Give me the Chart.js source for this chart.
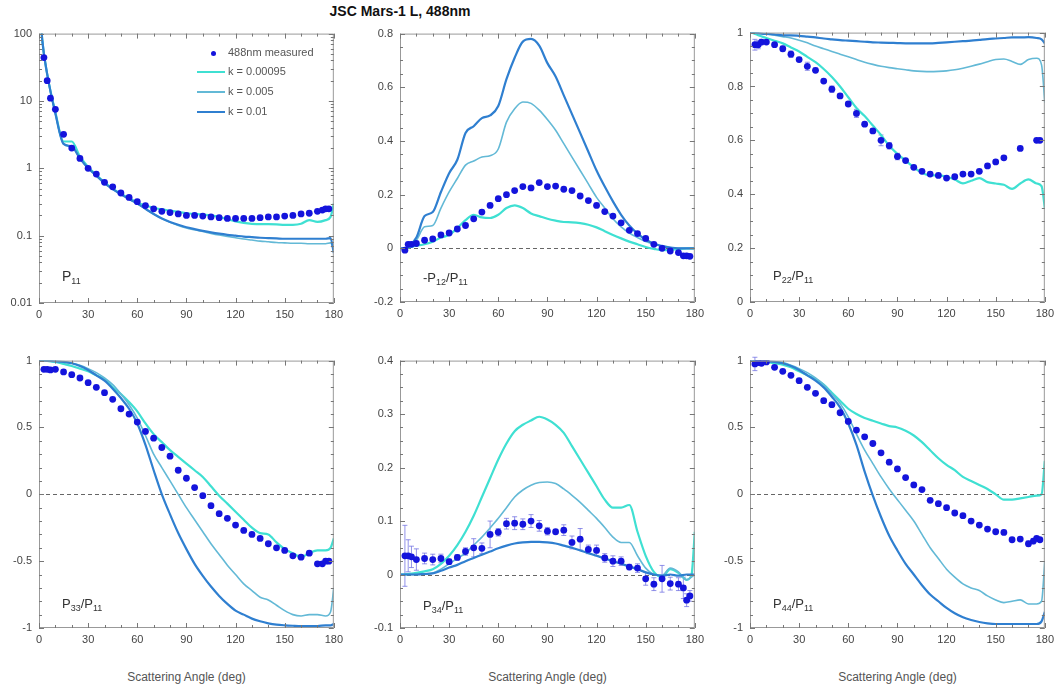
<!DOCTYPE html>
<html>
<head>
<meta charset="utf-8">
<script src="https://cdn.jsdelivr.net/npm/chart.js@4.4.1/dist/chart.umd.min.js"></script>
<style>
body { margin: 0; background: #fff; overflow: hidden; font-family: "Liberation Sans", Arial, sans-serif; }
#page { position: relative; width: 1055px; height: 687px; }
canvas { position: absolute; }
.title { position: absolute; left: 0; width: 800px; top: 3px; text-align: center; font-weight: bold; font-size: 14px; color: #111; }
.plab { position: absolute; font-size: 13px; color: #333; white-space: nowrap; }
.plab sub { font-size: 9px; vertical-align: -3px; }
.xlab { position: absolute; width: 295px; text-align: center; font-size: 12px; color: #555; top: 670px; }
.leg { position: absolute; font-size: 11px; color: #555; white-space: nowrap; }
.legline { position: absolute; height: 2px; width: 28px; }
.legdot { position: absolute; width: 5px; height: 5px; border-radius: 50%; background: #1414dc; }
</style>
</head>
<body>
<div id="page">
  <div class="title">JSC Mars-1 L, 488nm</div>
  <canvas id="c11"></canvas>
  <canvas id="c12"></canvas>
  <canvas id="c22"></canvas>
  <canvas id="c33"></canvas>
  <canvas id="c34"></canvas>
  <canvas id="c44"></canvas>

  <div class="legdot" style="left:211px;top:51px"></div>
  <div class="leg" style="left:228px;top:46px">488nm measured</div>
  <div class="legline" style="left:197px;top:71px;background:#3fe0d2"></div>
  <div class="leg" style="left:228px;top:65px">k = 0.00095</div>
  <div class="legline" style="left:197px;top:91px;background:#63b9d6;height:1.5px"></div>
  <div class="leg" style="left:228px;top:85px">k = 0.005</div>
  <div class="legline" style="left:197px;top:111px;background:#2f7fd0"></div>
  <div class="leg" style="left:228px;top:105px">k = 0.01</div>

  <div class="plab" style="left:62px;top:268px;font-size:14px">P<sub>11</sub></div>
  <div class="plab" style="left:423px;top:270px">-P<sub>12</sub>/P<sub>11</sub></div>
  <div class="plab" style="left:773px;top:268px">P<sub>22</sub>/P<sub>11</sub></div>
  <div class="plab" style="left:62px;top:596px">P<sub>33</sub>/P<sub>11</sub></div>
  <div class="plab" style="left:423px;top:598px">P<sub>34</sub>/P<sub>11</sub></div>
  <div class="plab" style="left:773px;top:596px">P<sub>44</sub>/P<sub>11</sub></div>

  <div class="xlab" style="left:39px">Scattering Angle (deg)</div>
  <div class="xlab" style="left:400px">Scattering Angle (deg)</div>
  <div class="xlab" style="left:750px">Scattering Angle (deg)</div>
</div>
<script>
// angles
const modelAngle = [0,2,5,10,15,20,25,30,35,40,45,50,55,60,65,70,75,80,85,90,95,100,105,110,115,120,125,130,135,140,145,150,155,160,165,170,175,178,180];
const measAngle = [3,5,7,10,15,20,25,30,35,40,45,50,55,60,65,70,75,80,85,90,95,100,105,110,115,120,125,130,135,140,145,150,155,160,165,170,173,175,177];

// P11
const p11_k1 = [400,80,25, 6.8,2.5,2.5,1.5,1.05,0.8,0.62,0.5,0.42,0.36,0.31,0.28,0.26,0.245,0.235,0.225,0.215,0.21,0.205,0.2,0.19,0.175,0.163,0.155,0.15,0.148,0.148,0.147,0.145,0.145,0.15,0.17,0.16,0.17, 0.19,0.3];
const p11_k2 = [400,80,25, 6.5,2.3,2.1,1.4,1.0,0.78,0.6,0.49,0.41,0.35,0.3,0.25,0.21,0.18,0.158,0.142,0.13,0.122,0.115,0.108,0.102,0.097,0.093,0.089,0.086,0.083,0.081,0.079,0.078,0.077,0.077,0.076,0.076,0.076, 0.078,0.06];
const p11_k3 = [400,80,25, 6.5,2.3,2.1,1.4,1.0,0.78,0.6,0.49,0.41,0.35,0.3,0.25,0.21,0.18,0.16,0.145,0.133,0.125,0.118,0.112,0.107,0.103,0.1,0.097,0.095,0.093,0.092,0.091,0.09,0.09,0.09,0.09,0.09,0.09, 0.092,0.055];
const p11_meas = [44,20,11, 7.5,3.2,2.0,1.4,1.0,0.82,0.62,0.53,0.43,0.37,0.32,0.28,0.25,0.23,0.22,0.21,0.2,0.2,0.195,0.19,0.185,0.18,0.18,0.18,0.18,0.185,0.19,0.19,0.195,0.2,0.21,0.215,0.23, 0.24,0.25,0.25];

// -P12/P11
const p12_k1 = [0,0,0.003, 0.01,0.015,0.025,0.04,0.05,0.075,0.105,0.125,0.115,0.113,0.125,0.15,0.16,0.15,0.13,0.12,0.11,0.103,0.098,0.097,0.094,0.088,0.078,0.064,0.05,0.037,0.025,0.015,0.005,-0.002,-0.007,-0.006,-0.002,0, 0,0];
const p12_k2 = [0,0,0.005, 0.03,0.08,0.085,0.15,0.21,0.26,0.31,0.325,0.34,0.345,0.37,0.47,0.52,0.545,0.54,0.515,0.48,0.44,0.39,0.34,0.29,0.24,0.19,0.15,0.11,0.08,0.057,0.04,0.025,0.015,0.008,0.003,0,0, 0,0];
const p12_k3 = [0,0,0.005, 0.04,0.12,0.135,0.21,0.28,0.33,0.43,0.455,0.485,0.495,0.53,0.63,0.71,0.77,0.78,0.755,0.69,0.64,0.57,0.5,0.43,0.36,0.29,0.23,0.175,0.125,0.085,0.055,0.033,0.017,0.009,0.003,0,0, 0,0];
const p12_meas = [-0.007,0.015,0.015, 0.018,0.03,0.035,0.05,0.057,0.072,0.085,0.11,0.135,0.16,0.185,0.2,0.215,0.23,0.225,0.245,0.23,0.232,0.22,0.215,0.195,0.178,0.16,0.137,0.12,0.095,0.067,0.055,0.037,0.015,0.0,-0.01,-0.016, -0.028,-0.028,-0.03];

// P22/P11
const p22_k1 = [1,0.998,0.99, 0.98,0.97,0.96,0.945,0.93,0.91,0.89,0.865,0.835,0.8,0.76,0.72,0.69,0.655,0.62,0.58,0.55,0.525,0.5,0.48,0.47,0.47,0.465,0.455,0.44,0.45,0.46,0.445,0.44,0.435,0.42,0.44,0.455,0.44, 0.43,0.35];
const p22_k2 = [1,1,0.998, 0.995,0.99,0.985,0.98,0.972,0.962,0.95,0.94,0.93,0.92,0.91,0.9,0.89,0.882,0.875,0.87,0.866,0.862,0.858,0.856,0.855,0.856,0.858,0.862,0.868,0.875,0.883,0.892,0.9,0.902,0.893,0.882,0.9,0.905, 0.88,0.74];
const p22_k3 = [1,1,0.998, 0.995,0.993,0.99,0.99,0.988,0.985,0.982,0.978,0.975,0.972,0.97,0.968,0.966,0.964,0.963,0.962,0.961,0.96,0.96,0.96,0.96,0.962,0.964,0.966,0.968,0.97,0.973,0.976,0.978,0.98,0.982,0.982,0.983,0.98, 0.975,0.96];
const p22_meas = [0.955,0.955,0.965, 0.965,0.955,0.94,0.92,0.9,0.875,0.86,0.82,0.79,0.765,0.735,0.7,0.66,0.635,0.6,0.58,0.54,0.525,0.5,0.485,0.475,0.47,0.46,0.465,0.475,0.475,0.485,0.505,0.52,0.535,null,0.57,null, null,0.6,0.6];
const p22_err = [0.02,0.015,0.01, 0.005,0.005,0.01,0.012,0.008,0.015,0.008,0.005,0.012,0.008,0.008,0.015,0.005,0.008,0.02,0.012,0.012,0.005,0.005,0.005,0.005,0.005,0.005,0.005,0.005,0.005,0.005,0.005,0.005,0.005,0,0.005,0, 0,0.005,0.005];

// P33/P11
const p33_k1 = [1,1,0.997, 0.99,0.975,0.96,0.94,0.92,0.89,0.86,0.8,0.75,0.69,0.62,0.53,0.45,0.39,0.33,0.28,0.23,0.18,0.13,0.06,-0.01,-0.07,-0.13,-0.19,-0.25,-0.29,-0.3,-0.36,-0.41,-0.44,-0.47,-0.44,-0.42,-0.42, -0.4,-0.33];
const p33_k2 = [1,1,0.998, 0.995,0.99,0.98,0.965,0.94,0.91,0.87,0.82,0.75,0.67,0.57,0.44,0.3,0.2,0.1,0.0,-0.1,-0.19,-0.28,-0.37,-0.45,-0.53,-0.6,-0.67,-0.72,-0.77,-0.79,-0.83,-0.87,-0.9,-0.91,-0.9,-0.9,-0.91, -0.88,-0.7];
const p33_k3 = [1,1,0.998, 0.995,0.99,0.98,0.96,0.93,0.89,0.85,0.79,0.72,0.64,0.53,0.37,0.18,0.0,-0.15,-0.29,-0.41,-0.52,-0.61,-0.69,-0.76,-0.82,-0.87,-0.9,-0.93,-0.95,-0.965,-0.975,-0.98,-0.983,-0.985,-0.985,-0.985,-0.98, -0.98,-0.97];
const p33_meas = [0.935,0.935,0.93, 0.935,0.915,0.895,0.87,0.835,0.8,0.76,0.71,0.64,0.6,0.54,0.47,0.42,0.35,0.285,0.18,0.12,0.05,-0.01,-0.085,-0.145,-0.18,-0.23,-0.27,-0.3,-0.33,-0.37,-0.4,-0.42,-0.46,-0.47,-0.44,-0.52, -0.52,-0.5,-0.5];

// P34/P11
const p34_k1 = [0,0,0.001, 0.003,0.006,0.01,0.02,0.035,0.055,0.08,0.11,0.145,0.18,0.215,0.245,0.268,0.28,0.288,0.295,0.29,0.28,0.265,0.24,0.215,0.19,0.165,0.14,0.125,0.125,0.13,0.08,0.035,0.005,-0.005,0.01,0.003,-0.01, 0.0,0.08];
const p34_k2 = [0,0,0, 0.0,0.001,0.003,0.01,0.02,0.03,0.04,0.055,0.07,0.087,0.105,0.125,0.145,0.158,0.167,0.172,0.173,0.17,0.16,0.148,0.135,0.12,0.105,0.088,0.07,0.06,0.06,0.035,0.012,0.0,-0.002,0.012,0.005,-0.01, -0.005,0.0];
const p34_k3 = [0,0,0, 0.0,0.001,0.002,0.007,0.013,0.018,0.025,0.031,0.037,0.043,0.049,0.054,0.058,0.06,0.061,0.061,0.06,0.058,0.054,0.05,0.045,0.04,0.035,0.03,0.025,0.02,0.015,0.01,0.004,0.0,-0.002,0.0,-0.002,0, 0,0];
const p34_meas = [0.035,0.035,0.033, 0.028,0.03,0.028,0.03,0.024,0.032,0.043,0.05,0.049,0.075,0.079,0.095,0.096,0.094,0.1,0.091,0.081,0.08,0.083,0.06,0.066,0.047,0.045,0.031,0.025,0.025,0.014,0.012,-0.008,-0.018,-0.008,-0.017,-0.018, -0.025,-0.048,-0.04];
const p34_err = [0.057,0.03,0.02, 0.02,0.01,0.01,0.008,0.005,0.005,0.007,0.017,0.01,0.025,0.007,0.01,0.012,0.01,0.012,0.01,0.007,0.004,0.01,0.012,0.02,0.008,0.01,0.008,0.01,0.008,0.005,0.008,0.012,0.012,0.025,0.012,0.012, 0.02,0.012,0.01];

// P44/P11
const p44_k1 = [1,1,0.995, 0.99,0.98,0.97,0.95,0.92,0.89,0.86,0.82,0.76,0.7,0.64,0.6,0.57,0.55,0.53,0.51,0.5,0.475,0.44,0.39,0.33,0.27,0.22,0.18,0.13,0.1,0.07,0.04,0.0,-0.04,-0.04,-0.03,-0.02,-0.01, 0.0,0.25];
const p44_k2 = [1,1,0.998, 0.995,0.99,0.985,0.965,0.94,0.91,0.87,0.82,0.75,0.68,0.58,0.45,0.33,0.23,0.13,0.04,-0.04,-0.12,-0.2,-0.3,-0.4,-0.48,-0.56,-0.62,-0.67,-0.7,-0.72,-0.76,-0.79,-0.81,-0.8,-0.79,-0.82,-0.82, -0.8,-0.5];
const p44_k3 = [1,1,0.998, 0.995,0.99,0.98,0.96,0.93,0.89,0.85,0.8,0.73,0.65,0.53,0.37,0.17,-0.01,-0.17,-0.31,-0.42,-0.52,-0.6,-0.68,-0.75,-0.8,-0.85,-0.89,-0.92,-0.94,-0.955,-0.965,-0.97,-0.97,-0.97,-0.97,-0.97,-0.97, -0.95,-0.88];
const p44_meas = [0.975,0.985,0.98, 0.99,0.95,0.92,0.89,0.85,0.8,0.755,0.7,0.67,0.61,0.545,0.48,0.43,0.38,0.31,0.24,0.19,0.125,0.07,0.035,-0.045,-0.07,-0.1,-0.14,-0.16,-0.2,-0.23,-0.26,-0.28,-0.285,-0.34,-0.335,-0.37, -0.35,-0.33,-0.34];
const p44_err = [0.05,0.01,0.01, 0.008,0.005,0.005,0.005,0.005,0.005,0.005,0.005,0.005,0.005,0.005,0.005,0.005,0.005,0.005,0.005,0.005,0.005,0.005,0.005,0.005,0.005,0.005,0.005,0.005,0.005,0.005,0.005,0.005,0.005,0.01,0.01,0.02, 0.02,0.01,0.01];

const xTicks = [0, 30, 60, 90, 120, 150, 180];

const C_MEAS = '#1414dc';
const C_K1 = '#3fe0d2';
const C_K2 = '#63b9d6';
const C_K3 = '#2f7fd0';

const PAD_L = 40, PAD_T = 10, PAD_R = 14, PAD_B = 24;
const tickFont = { family: '"Liberation Sans", Arial, sans-serif', size: 11 };

function pts(angles, vals) {
    return angles.map((a, i) => ({ x: a, y: vals[i] }));
}

function model(label, vals, color, width, order) {
    return {
        label: label,
        data: pts(modelAngle, vals),
        borderColor: color,
        backgroundColor: color,
        borderWidth: width,
        pointRadius: 0,
        cubicInterpolationMode: 'monotone',
        order: order
    };
}

function measured(vals, errs) {
    return {
        label: '488nm measured',
        data: pts(measAngle, vals),
        errors: errs,
        showLine: false,
        pointRadius: 3.4,
        pointBorderWidth: 0,
        pointBackgroundColor: C_MEAS,
        backgroundColor: C_MEAS,
        borderColor: C_MEAS,
        order: 0
    };
}

// frame, inward ticks, dashed zero line and error bars
const framePlugin = {
    id: 'frame',
    beforeDatasetsDraw(chart, args, opts) {
        const { ctx, chartArea: a, scales } = chart;
        ctx.save();
        if (opts.zero) {
            const y0 = Math.round(scales.y.getPixelForValue(0)) + 0.5;
            ctx.strokeStyle = '#666';
            ctx.lineWidth = 1;
            ctx.setLineDash([4, 3]);
            ctx.beginPath();
            ctx.moveTo(a.left, y0);
            ctx.lineTo(a.right, y0);
            ctx.stroke();
            ctx.setLineDash([]);
        }
        chart.data.datasets.forEach((ds, i) => {
            if (!ds.errors) return;
            const meta = chart.getDatasetMeta(i);
            ctx.strokeStyle = 'rgba(110,110,225,0.75)';
            ctx.lineWidth = 1;
            meta.data.forEach((el, j) => {
                const v = ds.data[j].y, e = ds.errors[j];
                if (v === null || !e) return;
                const yt = scales.y.getPixelForValue(v + e);
                const yb = scales.y.getPixelForValue(v - e);
                ctx.beginPath();
                ctx.moveTo(el.x, yt); ctx.lineTo(el.x, yb);
                ctx.moveTo(el.x - 2.5, yt); ctx.lineTo(el.x + 2.5, yt);
                ctx.moveTo(el.x - 2.5, yb); ctx.lineTo(el.x + 2.5, yb);
                ctx.stroke();
            });
        });
        ctx.restore();
    },
    afterDraw(chart, args, opts) {
        const { ctx, chartArea: a, scales } = chart;
        const xs = scales.x, ys = scales.y;
        ctx.save();
        ctx.strokeStyle = '#999';
        ctx.lineWidth = 1;
        ctx.strokeRect(a.left + 0.5, a.top + 0.5, a.right - a.left - 1, a.bottom - a.top - 1);

        ctx.strokeStyle = '#777';
        const hTick = (y, len) => {
            y = Math.round(y) + 0.5;
            ctx.moveTo(a.left, y); ctx.lineTo(a.left + len, y);
            ctx.moveTo(a.right, y); ctx.lineTo(a.right - len, y);
        };
        const vTick = (x, len) => {
            x = Math.round(x) + 0.5;
            ctx.moveTo(x, a.bottom); ctx.lineTo(x, a.bottom - len);
            ctx.moveTo(x, a.top); ctx.lineTo(x, a.top + len);
        };
        ctx.beginPath();
        for (let v = 0; v <= 180; v += 10) {
            vTick(xs.getPixelForValue(v), v % 30 === 0 ? 5 : 3);
        }
        if (opts.log) {
            for (let d = -2; d <= 2; d++) {
                const base = Math.pow(10, d);
                hTick(ys.getPixelForValue(base), 5);
                if (d < 2) {
                    for (let m = 2; m <= 9; m++) hTick(ys.getPixelForValue(m * base), 3);
                }
            }
        } else {
            const n = Math.round((ys.max - ys.min) / opts.minor);
            for (let k = 0; k <= n; k++) {
                const v = ys.min + k * opts.minor;
                const major = Math.abs(v / opts.step - Math.round(v / opts.step)) < 1e-6;
                hTick(ys.getPixelForValue(v), major ? 5 : 3);
            }
        }
        ctx.stroke();
        ctx.restore();
    }
};

function panel(id, box, yCfg, frameOpts, datasets) {
    const cv = document.getElementById(id);
    const w = box.r - box.l + PAD_L + PAD_R;
    const h = box.b - box.t + PAD_T + PAD_B;
    cv.width = w; cv.height = h;
    cv.style.width = w + 'px'; cv.style.height = h + 'px';
    cv.style.left = (box.l - PAD_L) + 'px';
    cv.style.top = (box.t - PAD_T) + 'px';

    return new Chart(cv, {
        type: 'line',
        data: { datasets: datasets },
        plugins: [framePlugin],
        options: {
            responsive: false,
            animation: false,
            devicePixelRatio: 1,
            layout: { padding: { left: 0, top: PAD_T, right: PAD_R, bottom: 0 } },
            plugins: {
                legend: { display: false },
                tooltip: { enabled: false },
                frame: frameOpts
            },
            scales: {
                x: {
                    type: 'linear',
                    min: 0,
                    max: 180,
                    afterFit: (s) => { s.height = PAD_B; },
                    afterBuildTicks: (s) => { s.ticks = xTicks.map(v => ({ value: v })); },
                    ticks: { padding: 5, font: tickFont, color: '#444', maxRotation: 0, autoSkip: false },
                    grid: { display: false, drawTicks: false },
                    border: { display: false }
                },
                y: Object.assign({
                    afterFit: (s) => { s.width = PAD_L; },
                    grid: { display: false, drawTicks: false },
                    border: { display: false }
                }, yCfg)
            }
        }
    });
}

function linY(min, max, step) {
    return {
        type: 'linear', min: min, max: max,
        ticks: {
            stepSize: step, padding: 7, font: tickFont, color: '#444', autoSkip: false,
            callback: (v) => String(Math.round(v * 1000) / 1000)
        }
    };
}

const logY = {
    type: 'logarithmic', min: 0.01, max: 100,
    afterBuildTicks: (s) => { s.ticks = [0.01, 0.1, 1, 10, 100].map(v => ({ value: v })); },
    ticks: { padding: 7, font: tickFont, color: '#444', autoSkip: false, callback: (v) => String(v) }
};

panel('c11', { l: 39, t: 30, r: 334, b: 303 }, logY, { log: true }, [
    measured(p11_meas, null),
    model('k = 0.00095', p11_k1, C_K1, 2.2, 3),
    model('k = 0.005', p11_k2, C_K2, 1.6, 2),
    model('k = 0.01', p11_k3, C_K3, 2.2, 1)
]);

panel('c12', { l: 400, t: 30, r: 695, b: 302 }, linY(-0.2, 0.8, 0.2), { step: 0.2, minor: 0.05, zero: true }, [
    measured(p12_meas, null),
    model('k = 0.00095', p12_k1, C_K1, 2.2, 3),
    model('k = 0.005', p12_k2, C_K2, 1.6, 2),
    model('k = 0.01', p12_k3, C_K3, 2.2, 1)
]);

panel('c22', { l: 750, t: 29, r: 1045, b: 302 }, linY(0, 1, 0.2), { step: 0.2, minor: 0.05 }, [
    measured(p22_meas, p22_err),
    model('k = 0.00095', p22_k1, C_K1, 2.2, 3),
    model('k = 0.005', p22_k2, C_K2, 1.6, 2),
    model('k = 0.01', p22_k3, C_K3, 2.2, 1)
]);

panel('c33', { l: 39, t: 357, r: 334, b: 628 }, linY(-1, 1, 0.5), { step: 0.5, minor: 0.1, zero: true }, [
    measured(p33_meas, null),
    model('k = 0.00095', p33_k1, C_K1, 2.2, 3),
    model('k = 0.005', p33_k2, C_K2, 1.6, 2),
    model('k = 0.01', p33_k3, C_K3, 2.2, 1)
]);

panel('c34', { l: 400, t: 357, r: 695, b: 628 }, linY(-0.1, 0.4, 0.1), { step: 0.1, minor: 0.025, zero: true }, [
    measured(p34_meas, p34_err),
    model('k = 0.00095', p34_k1, C_K1, 2.2, 3),
    model('k = 0.005', p34_k2, C_K2, 1.6, 2),
    model('k = 0.01', p34_k3, C_K3, 2.2, 1)
]);

panel('c44', { l: 750, t: 357, r: 1045, b: 628 }, linY(-1, 1, 0.5), { step: 0.5, minor: 0.1, zero: true }, [
    measured(p44_meas, p44_err),
    model('k = 0.00095', p44_k1, C_K1, 2.2, 3),
    model('k = 0.005', p44_k2, C_K2, 1.6, 2),
    model('k = 0.01', p44_k3, C_K3, 2.2, 1)
]);
</script>
</body>
</html>
